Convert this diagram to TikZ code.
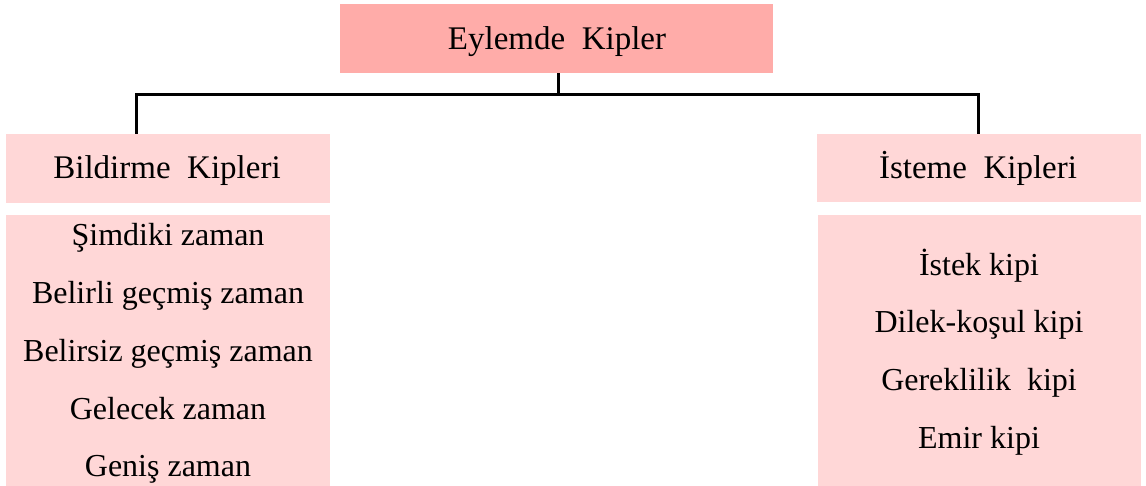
\documentclass[tikz,border=0pt]{standalone}
\usepackage{fontspec}
\setmainfont{Liberation Serif}
\definecolor{topfill}{HTML}{FFACA9}
\definecolor{boxfill}{HTML}{FFD7D7}
\begin{document}
\begin{tikzpicture}[x=1pt,y=-1pt,
  box/.style={fill=#1, draw=none, inner sep=0pt, anchor=north west},
  item/.style={font=\fontsize{32}{36}\selectfont, inner sep=0pt, anchor=base},
  head/.style={font=\fontsize{33}{36}\selectfont, inner sep=0pt, anchor=base},
  conn/.style={line width=3pt}]
\useasboundingbox (0,0) rectangle (1146,486);
% boxes
\node[box=topfill, minimum width=433pt, minimum height=69pt] (top) at (340,4) {};
\node[box=boxfill, minimum width=324pt, minimum height=69pt] (lh) at (6,134) {};
\node[box=boxfill, minimum width=324pt, minimum height=68pt] (rh) at (817,134) {};
\node[box=boxfill, minimum width=324pt, minimum height=271pt] (ll) at (6,215) {};
\node[box=boxfill, minimum width=323pt, minimum height=271pt] (rl) at (818,215) {};
% headings
\node[head] (tt) at (557,50) {Eylemde\ \ Kipler};
\node[head] (lt) at (167,179) {Bildirme\ \ Kipleri};
\node[head] (rt) at (978,179) {İsteme\ \ Kipleri};
% left list
\node[item] (l1) at (168,246) {Şimdiki zaman};
\node[item] (l2) at (168,304) {Belirli geçmiş zaman};
\node[item] (l3) at (168,361) {Belirsiz geçmiş zaman};
\node[item] (l4) at (168,419) {Gelecek zaman};
\node[item] (l5) at (168,476) {Geniş zaman};
% right list
\node[item] (r1) at (979,276) {İstek kipi};
\node[item] (r2) at (979,333) {Dilek-koşul kipi};
\node[item] (r3) at (979,390) {Gereklilik\ \ kipi};
\node[item] (r4) at (979,448) {Emir kipi};
% connectors
\coordinate (jl) at (136,95);
\coordinate (jr) at (978,95);
\draw[conn] (top.south -| 558,0) -- (jl -| 558,0);
\draw[conn] (jl |- lh.north) -- (jl) -- (jr) -- (jr |- rh.north);
\end{tikzpicture}
\end{document}
